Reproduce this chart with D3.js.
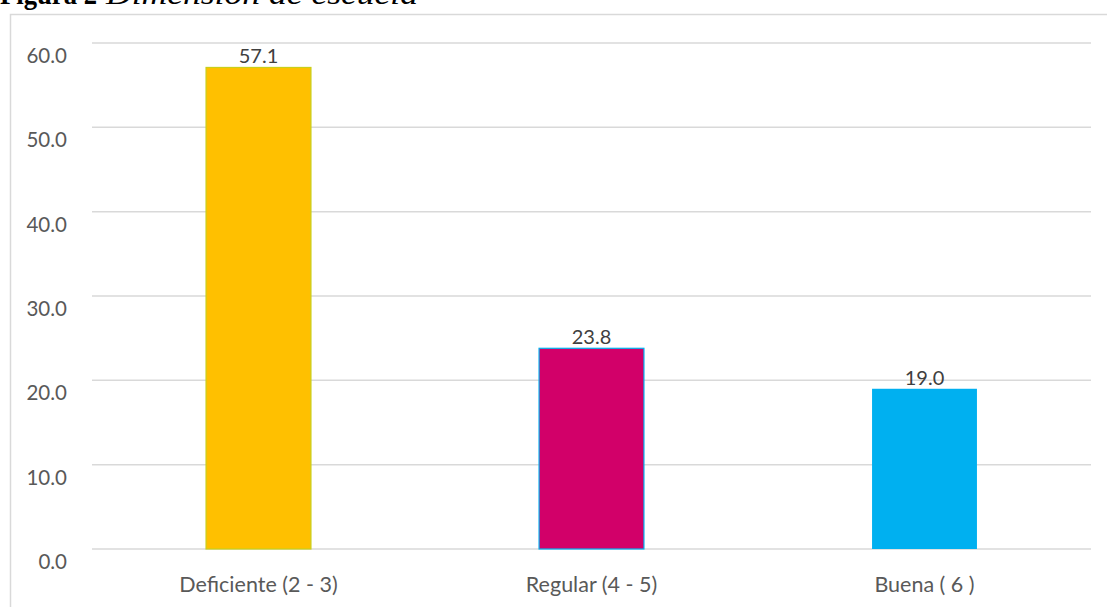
<!DOCTYPE html>
<html><head><meta charset="utf-8">
<script src="https://cdn.jsdelivr.net/npm/d3@7"></script>
<style>body{margin:0;background:#fff;}svg{display:block;}</style>
</head><body>
<svg id="c" width="1107" height="607"></svg>
<script>
const categories = ["Deficiente (2 - 3)", "Regular (4 - 5)", "Buena ( 6 )"];
const values = [57.1, 23.8, 19.0];
const valueLabels = ["57.1", "23.8", "19.0"];
const yTicks = [0, 10, 20, 30, 40, 50, 60];
const fills = ["#FFC000", "#D20069", "#00B0F0"];
const strokes = ["#C9CF1A", "#00B0F0", "#00B0F0"];

const svg = d3.select("#c");
const W = 1107, H = 607;
const m = {left: 92, right: 16, top: 43, bottom: 58};
const font = "Lato, 'Open Sans', sans-serif";

// title (top of it is cut off by the page edge, as in the reference)
const t = svg.append("text").attr("y", 4).attr("font-family", "'Liberation Serif', 'Times New Roman', serif").attr("font-size", 30).attr("fill", "#000");
t.append("tspan").attr("x", 0).attr("font-weight", "bold").attr("textLength", 97).attr("lengthAdjust", "spacingAndGlyphs").text("Figura 2");
t.append("tspan").attr("x", 106).attr("font-style", "italic").attr("textLength", 312).attr("lengthAdjust", "spacingAndGlyphs").text("Dimensión de escuela");

// border
svg.append("rect").attr("x", 10.5).attr("y", 14.5).attr("width", 1110).attr("height", 700)
  .attr("fill", "none").attr("stroke", "#d9d9d9").attr("stroke-width", 1.5);

const x = d3.scaleBand().domain(categories).range([m.left, W - m.right]).paddingInner(0.685).paddingOuter(0.3425);
const y = d3.scaleLinear().domain([0, 60]).range([H - m.bottom, m.top]);

// grid
svg.append("g").selectAll("line").data(yTicks).join("line")
  .attr("x1", m.left).attr("x2", W - m.right)
  .attr("y1", d => y(d)).attr("y2", d => y(d))
  .attr("stroke", "#d9d9d9").attr("stroke-width", 1.5);

// y axis labels
const yAxis = d3.axisLeft(y).tickValues(yTicks).tickFormat(d3.format(".1f")).tickSize(0).tickPadding(0);
const ya = svg.append("g").attr("transform", `translate(67,13)`).call(yAxis);
ya.select(".domain").remove();
ya.selectAll("text").attr("font-family", font).attr("font-size", 20.5).attr("fill", "#595959");

// x axis labels
const xAxis = d3.axisBottom(x).tickSize(0).tickPadding(0);
const xa = svg.append("g").attr("transform", `translate(0,${H - m.bottom + 36})`).call(xAxis);
xa.select(".domain").remove();
xa.selectAll("text").attr("font-family", font).attr("font-size", 21.5).attr("fill", "#595959").attr("dy", "0.32em");

// bars
svg.append("g").selectAll("rect").data(values).join("rect")
  .attr("x", (d, i) => x(categories[i]))
  .attr("width", x.bandwidth())
  .attr("y", d => y(d))
  .attr("height", d => y(0) - y(d))
  .attr("fill", (d, i) => fills[i])
  .attr("stroke", (d, i) => strokes[i])
  .attr("stroke-width", (d, i) => i === 2 ? 0 : 1.2);

// value labels
svg.append("g").selectAll("text").data(values).join("text")
  .attr("x", (d, i) => x(categories[i]) + x.bandwidth() / 2)
  .attr("y", d => y(d) - 4)
  .attr("text-anchor", "middle")
  .attr("font-family", font).attr("font-size", 20).attr("fill", "#404040")
  .text((d, i) => valueLabels[i]);
</script>
</body></html>
